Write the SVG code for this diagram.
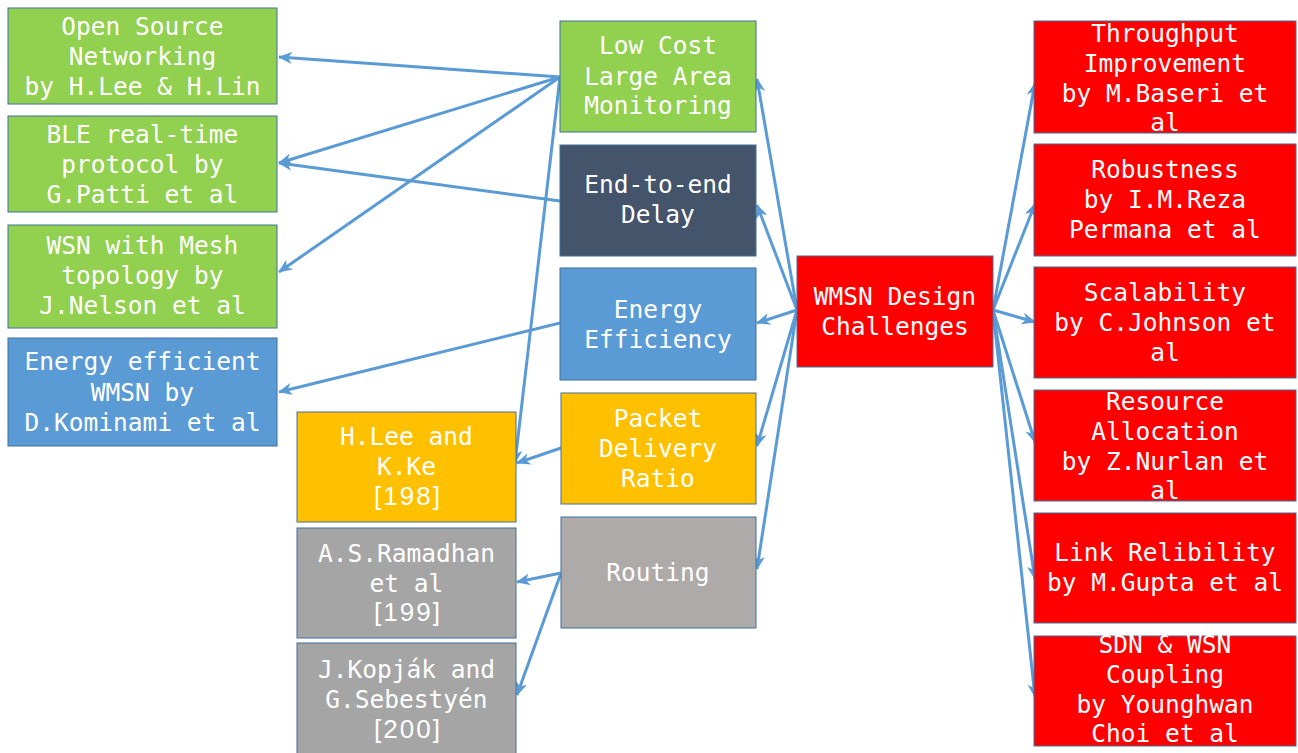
<svg xmlns="http://www.w3.org/2000/svg" width="1298" height="753" viewBox="0 0 1298 753">
  <defs>
    <marker id="arrow" markerWidth="14" markerHeight="12" refX="13" refY="6" orient="auto" markerUnits="userSpaceOnUse">
      <path d="M0,0 L14,6 L0,12 L4,6 z" fill="#5B9BD5"/>
    </marker>
    <style>
      .node rect { stroke: #41719C; stroke-width: 1; }
      .green { fill: #92D050; }
      .slate { fill: #44546A; }
      .blue { fill: #5B9BD5; }
      .amber { fill: #FFC000; }
      .grey { fill: #A5A5A5; }
      .stone { fill: #AEAAAA; }
      .red { fill: #FF0000; }
      text { font-family: "DejaVu Sans Mono", "Liberation Mono", monospace; font-size: 24.5px; fill: #FFFFFF; text-anchor: middle; }
      .ref { font-family: "Liberation Sans", Arial, sans-serif; font-size: 26px; letter-spacing: 2px; }
      .links line { stroke: #5B9BD5; stroke-width: 3; marker-end: url(#arrow); }
    </style>
  </defs>
  <rect width="1298" height="753" fill="#FFFFFF"/>

  <!-- connectors -->
  <g id="connectors" class="links">
    <!-- Low Cost Large Area Monitoring -->
    <line x1="560" y1="77" x2="279" y2="57"/>
    <line x1="560" y1="77" x2="279" y2="163"/>
    <line x1="560" y1="77" x2="279" y2="272"/>
    <line x1="560" y1="77" x2="515" y2="463"/>
    <!-- End-to-end Delay -->
    <line x1="560" y1="201" x2="279" y2="163"/>
    <!-- Energy Efficiency -->
    <line x1="560" y1="323" x2="279" y2="392"/>
    <!-- Packet Delivery Ratio -->
    <line x1="561" y1="448" x2="517" y2="463"/>
    <!-- Routing -->
    <line x1="561" y1="573" x2="517" y2="582"/>
    <line x1="561" y1="573" x2="517" y2="695"/>
    <!-- WMSN Design Challenges, left side -->
    <line x1="797" y1="310" x2="757" y2="79"/>
    <line x1="797" y1="310" x2="757" y2="205"/>
    <line x1="797" y1="310" x2="757" y2="323"/>
    <line x1="797" y1="310" x2="757" y2="446"/>
    <line x1="797" y1="310" x2="757" y2="569"/>
    <!-- WMSN Design Challenges, right side -->
    <line x1="993" y1="310" x2="1035" y2="83"/>
    <line x1="993" y1="310" x2="1035" y2="204"/>
    <line x1="993" y1="310" x2="1035" y2="322"/>
    <line x1="993" y1="310" x2="1035" y2="442"/>
    <line x1="993" y1="310" x2="1035" y2="579"/>
    <line x1="993" y1="310" x2="1035" y2="697"/>
  </g>

  <!-- left column -->
  <g id="open-source" class="node">
    <rect class="green" x="8" y="8" width="269" height="96"/>
    <text x="142.5" y="35">Open Source</text>
    <text x="142.5" y="65">Networking</text>
    <text x="142.5" y="95">by H.Lee &amp; H.Lin</text>
  </g>
  <g id="ble-protocol" class="node">
    <rect class="green" x="8" y="116" width="269" height="96"/>
    <text x="142.5" y="143">BLE real-time</text>
    <text x="142.5" y="173">protocol by</text>
    <text x="142.5" y="203">G.Patti et al</text>
  </g>
  <g id="wsn-mesh" class="node">
    <rect class="green" x="8" y="225" width="269" height="103"/>
    <text x="142.5" y="254">WSN with Mesh</text>
    <text x="142.5" y="284">topology by</text>
    <text x="142.5" y="314">J.Nelson et al</text>
  </g>
  <g id="energy-wmsn" class="node">
    <rect class="blue" x="8" y="338" width="269" height="108"/>
    <text x="142.5" y="370">Energy efficient</text>
    <text x="142.5" y="401">WMSN by</text>
    <text x="142.5" y="431">D.Kominami et al</text>
  </g>

  <!-- reference column -->
  <g id="lee-ke" class="node">
    <rect class="amber" x="297" y="412" width="219" height="110"/>
    <text x="406.5" y="445">H.Lee and</text>
    <text x="406.5" y="475">K.Ke</text>
    <text class="ref" x="408" y="505">[198]</text>
  </g>
  <g id="ramadhan" class="node">
    <rect class="grey" x="297" y="528" width="219" height="110"/>
    <text x="406.5" y="562">A.S.Ramadhan</text>
    <text x="406.5" y="592">et al</text>
    <text class="ref" x="408" y="621">[199]</text>
  </g>
  <g id="kopjak" class="node">
    <rect class="grey" x="297" y="643" width="219" height="112"/>
    <text x="406.5" y="678">J.Kopják and</text>
    <text x="406.5" y="708">G.Sebestyén</text>
    <text class="ref" x="408" y="738">[200]</text>
  </g>

  <!-- challenge column -->
  <g id="low-cost" class="node">
    <rect class="green" x="560" y="21" width="196" height="111"/>
    <text x="658" y="54">Low Cost</text>
    <text x="658" y="85">Large Area</text>
    <text x="658" y="114">Monitoring</text>
  </g>
  <g id="delay" class="node">
    <rect class="slate" x="560" y="145" width="196" height="111"/>
    <text x="658" y="193">End-to-end</text>
    <text x="658" y="223">Delay</text>
  </g>
  <g id="energy-efficiency" class="node">
    <rect class="blue" x="560" y="268" width="196" height="112"/>
    <text x="658" y="318">Energy</text>
    <text x="658" y="348">Efficiency</text>
  </g>
  <g id="packet-delivery" class="node">
    <rect class="amber" x="561" y="393" width="195" height="111"/>
    <text x="658" y="427">Packet</text>
    <text x="658" y="457">Delivery</text>
    <text x="658" y="487">Ratio</text>
  </g>
  <g id="routing" class="node">
    <rect class="stone" x="561" y="517" width="195" height="111"/>
    <text x="658" y="581">Routing</text>
  </g>

  <!-- centre -->
  <g id="wmsn" class="node">
    <rect class="red" x="797" y="256" width="196" height="111"/>
    <text x="895" y="305">WMSN Design</text>
    <text x="895" y="335">Challenges</text>
  </g>

  <!-- right column -->
  <g id="throughput" class="node">
    <rect class="red" x="1034" y="21" width="262" height="112"/>
    <text x="1165" y="42">Throughput</text>
    <text x="1165" y="72">Improvement</text>
    <text x="1165" y="102">by M.Baseri et</text>
    <text x="1165" y="131">al</text>
  </g>
  <g id="robustness" class="node">
    <rect class="red" x="1034" y="144" width="262" height="112"/>
    <text x="1165" y="178">Robustness</text>
    <text x="1165" y="208">by I.M.Reza</text>
    <text x="1165" y="238">Permana et al</text>
  </g>
  <g id="scalability" class="node">
    <rect class="red" x="1034" y="267" width="262" height="111"/>
    <text x="1165" y="301">Scalability</text>
    <text x="1165" y="331">by C.Johnson et</text>
    <text x="1165" y="361">al</text>
  </g>
  <g id="resource-allocation" class="node">
    <rect class="red" x="1034" y="390" width="262" height="111"/>
    <text x="1165" y="410">Resource</text>
    <text x="1165" y="440">Allocation</text>
    <text x="1165" y="470">by Z.Nurlan et</text>
    <text x="1165" y="499">al</text>
  </g>
  <g id="link-reliability" class="node">
    <rect class="red" x="1034" y="513" width="262" height="110"/>
    <text x="1165" y="561">Link Relibility</text>
    <text x="1165" y="591">by M.Gupta et al</text>
  </g>
  <g id="sdn-wsn" class="node">
    <rect class="red" x="1034" y="636" width="262" height="110"/>
    <text x="1165" y="653">SDN &amp; WSN</text>
    <text x="1165" y="683">Coupling</text>
    <text x="1165" y="713">by Younghwan</text>
    <text x="1165" y="742">Choi et al</text>
  </g>
</svg>
